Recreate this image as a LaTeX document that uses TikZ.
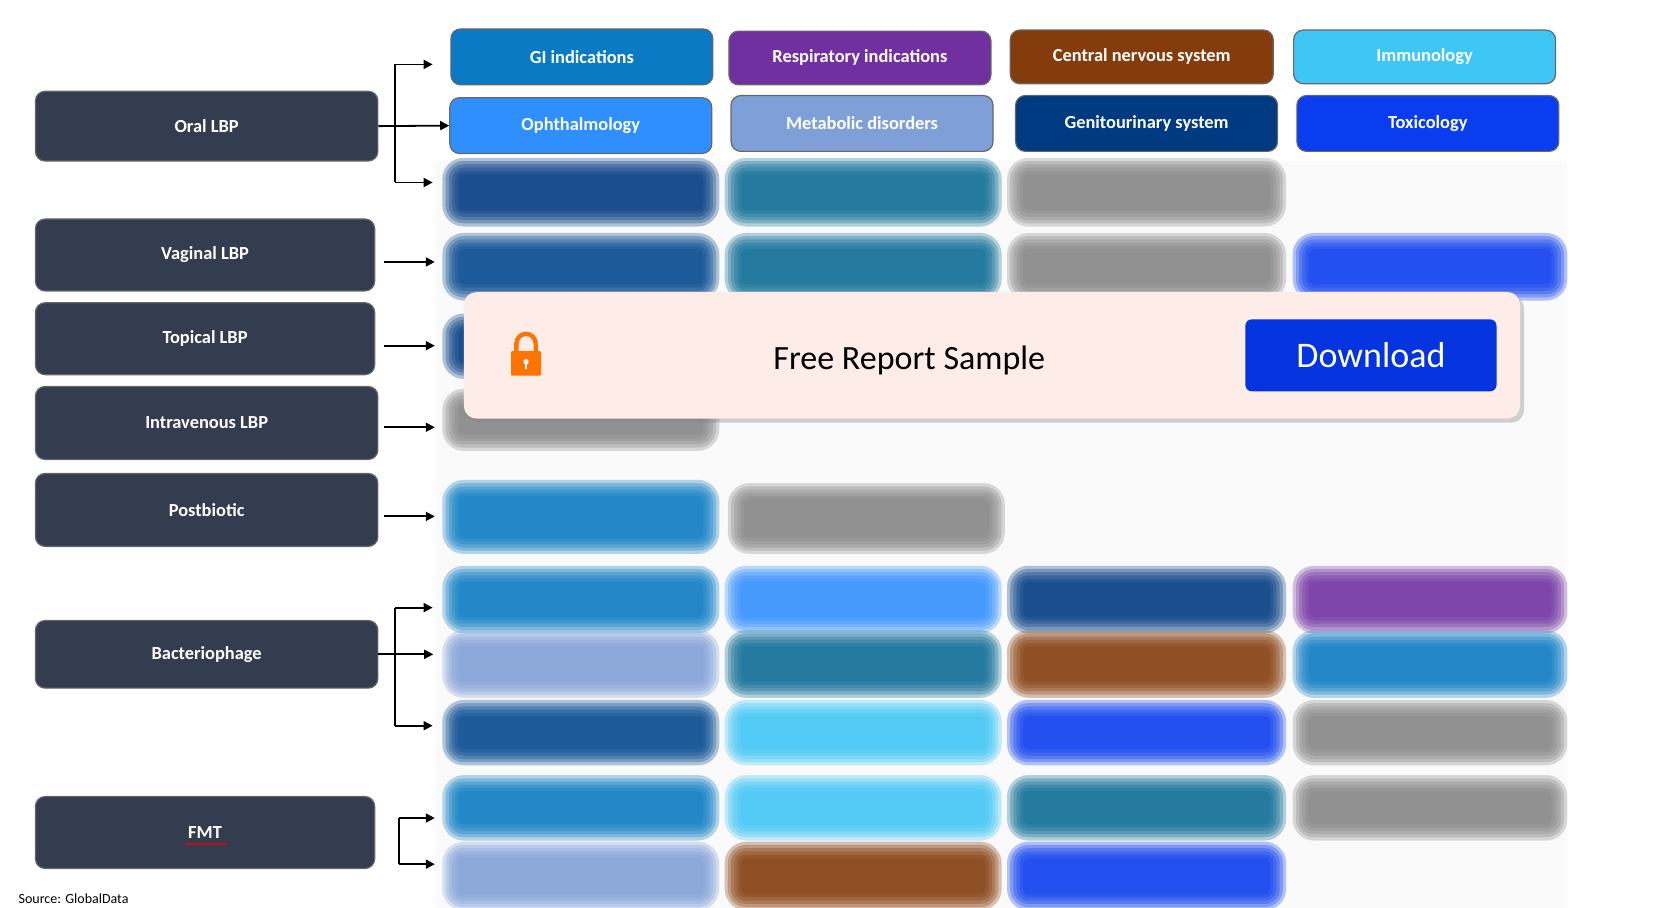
\documentclass[tikz,border=0pt]{standalone}
\usepackage{fontspec}
\setmainfont{Carlito}
\usetikzlibrary{arrows.meta,shadows,decorations.pathmorphing}
\definecolor{dk}{HTML}{333D4F}
\definecolor{gi}{HTML}{0A7AC4}
\definecolor{resp}{HTML}{7030A0}
\definecolor{cns}{HTML}{843C0C}
\definecolor{imm}{HTML}{3EC6F5}
\definecolor{oph}{HTML}{2F8FFF}
\definecolor{met}{HTML}{7F9FD8}
\definecolor{gen}{HTML}{003A80}
\definecolor{tox}{HTML}{0A3CF0}
\definecolor{teal}{HTML}{0A6A94}
\definecolor{gry}{HTML}{858585}
\definecolor{pink}{HTML}{FDECE8}
\definecolor{dl}{HTML}{0433E0}
\newlength\uu \setlength\uu{0.5367pt}
\newcommand\bx[7]{\node[box,fill=#6,minimum width={(#4-#2)*\uu},minimum height={(#5-#3)*\uu}] (#1) at ({(#2+#4)/2},{-(#3+#5)/2}) {#7};}
\newcommand\bl[5]{%
 \foreach \e in {8,5,2,-1,-4,-7}{%
 \fill[#5,opacity=0.3,rounded corners={(12+\e)*\uu}] (#1-\e,-#2+\e) rectangle (#3+\e,-#4-\e);}}
\begin{document}
\begin{tikzpicture}[x=\uu,y=\uu,
 box/.style={draw=black!60,line width=0.6pt,rounded corners=9\uu,text=white,font=\bfseries\fontsize{9.2}{10}\selectfont,inner sep=0pt},
 arr/.style={-{Triangle[length=4.5pt,width=4.5pt]},line width=0.9pt}]
\useasboundingbox (0,0) rectangle (1550,-845);
% faint panel
\fill[black!2] (405,-150) rectangle (1460,-855);
% blurred rows
\bl{420}{155}{662}{203}{gen}\bl{683}{155}{925}{203}{teal}\bl{946}{155}{1190}{203}{gry}
\bl{420}{225}{662}{272}{gen!80!gi}\bl{683}{225}{925}{272}{teal}\bl{946}{225}{1190}{272}{gry}\bl{1212}{225}{1452}{272}{tox}
\bl{420}{300}{662}{345}{gen}
\bl{420}{370}{662}{412}{gry}
\bl{420}{455}{662}{508}{gi}\bl{686}{458}{928}{508}{gry}
\bl{420}{535}{662}{582}{gi}\bl{683}{535}{925}{582}{oph}\bl{946}{535}{1190}{582}{gen}\bl{1212}{535}{1452}{582}{resp}
\bl{420}{595}{662}{642}{met}\bl{683}{595}{925}{642}{teal}\bl{946}{595}{1190}{642}{cns}\bl{1212}{595}{1452}{642}{gi}
\bl{420}{660}{662}{705}{gen!80!gi}\bl{683}{660}{925}{705}{imm}\bl{946}{660}{1190}{705}{tox}\bl{1212}{660}{1452}{705}{gry}
\bl{420}{730}{662}{775}{gi}\bl{683}{730}{925}{775}{imm}\bl{946}{730}{1190}{775}{teal}\bl{1212}{730}{1452}{775}{gry}
\bl{420}{792}{662}{840}{met}\bl{683}{792}{925}{840}{cns}\bl{946}{792}{1190}{840}{tox}
% left boxes
\bx{oral}{33}{85}{352}{150}{dk}{Oral LBP}
\bx{vag}{33}{204}{349}{271}{dk}{Vaginal LBP}
\bx{top}{33}{282}{349}{349}{dk}{Topical LBP}
\bx{iv}{33}{360}{352}{428}{dk}{Intravenous LBP}
\bx{post}{33}{441}{352}{509}{dk}{Postbiotic}
\bx{bac}{33}{578}{352}{641}{dk}{Bacteriophage}
\bx{fmt}{33}{742}{349}{809}{dk}{FMT}
\draw[red,line width=0.4pt,decorate,decoration={snake,amplitude=0.5pt,segment length=2pt}] (172,-786) -- (212,-786);
% top rows
\bx{gi}{420}{27}{664}{79}{gi}{GI indications}
\bx{resp}{679}{29}{923}{79}{resp}{Respiratory indications}
\bx{cns}{941}{28}{1186}{78}{cns}{Central nervous system}
\bx{imm}{1205}{28}{1449}{78}{imm}{Immunology}
\bx{oph}{419}{91}{663}{143}{oph}{Ophthalmology}
\bx{met}{681}{89}{925}{141}{met}{Metabolic disorders}
\bx{gen}{946}{89}{1190}{141}{gen}{Genitourinary system}
\bx{tox}{1208}{89}{1452}{141}{tox}{Toxicology}
% connectors
\coordinate (o1) at (368,-60); \coordinate (o3) at (368,-170);
\draw[line width=0.9pt] (o1) -- (o3);
\draw[arr] (o1) -- (403,-60);
\draw[arr] (oral.east) -- (oph.west);
\draw[arr] (o3) -- (403,-170);
\coordinate (va) at (405,-244); \draw[arr] (358,-244) -- (va);
\coordinate (ta) at (405,-322); \draw[arr] (358,-322) -- (ta);
\coordinate (ia) at (405,-398); \draw[arr] (358,-398) -- (ia);
\coordinate (pa) at (405,-481); \draw[arr] (358,-481) -- (pa);
\coordinate (b1) at (368,-566); \coordinate (b3) at (368,-676);
\draw[line width=0.9pt] (b1) -- (b3);
\draw[arr] (b1) -- (403,-566);
\draw[arr] (bac.east) -- ++(51,0);
\draw[arr] (b3) -- (403,-676);
\coordinate (f1) at (372,-762); \coordinate (f2) at (372,-805);
\draw[line width=0.9pt] (f1) -- (f2);
\draw[arr] (f1) -- (405,-762);
\draw[arr] (f2) -- (405,-805);
\node[anchor=west,font=\fontsize{7}{8}\selectfont,inner sep=0pt] (src) at (17,-837) {Source: GlobalData};
% overlay
\node[fill=pink,rounded corners=12\uu,minimum width={984\uu},minimum height={118\uu},drop shadow={opacity=0.35,shadow xshift=2pt,shadow yshift=-2pt}] (ov) at (924,-331) {};
\node[font=\fontsize{17}{20}\selectfont] (frs) at (847,-336) {Free Report Sample};
\node[fill=dl,rounded corners=6\uu,minimum width={234\uu},minimum height={67\uu},text=white,font=\fontsize{18}{20}\selectfont] (dlb) at (1277,-331) {Download};
% lock
\fill[orange!90!red,rounded corners=1\uu] (476,-327) rectangle (504,-350);
\draw[orange!90!red,line width=2.2pt] (481,-327) -- (481,-320) arc (180:0:9) -- (499,-327);
\fill[white] (490,-337) circle (2.5);
\draw[white,line width=1pt] (490,-337) -- (490,-344);
\end{tikzpicture}
\end{document}
